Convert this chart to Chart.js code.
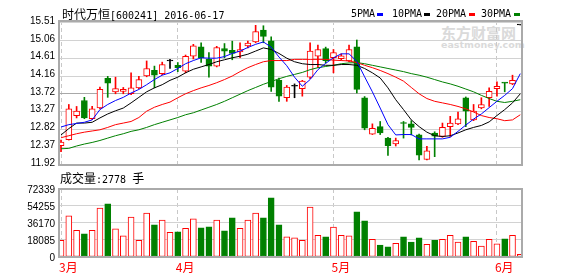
<!DOCTYPE html>
<html>
<head>
<meta charset="utf-8">
<script src="https://cdn.jsdelivr.net/npm/chart.js@4.4.0/dist/chart.umd.min.js"></script>
<style>
  body { margin: 0; background: #fff; }
  #wrap { position: relative; width: 578px; height: 276px; overflow: hidden; background: #fff; }
  canvas { position: absolute; left: 0; top: 0; }
  .t { position: absolute; white-space: nowrap; color: #000; line-height: 14px; }
  .cjk { font-family: "Noto Sans CJK SC"; font-size: 12px; }
  .mono { font-family: "DejaVu Sans Mono"; font-size: 10px; }
  .mk { position: absolute; width: 6px; height: 3px; top: 13px; }
  .wm { position: absolute; white-space: nowrap; color: #dadada; font-weight: bold; }
</style>
</head>
<body>
<div id="wrap">
  <div class="wm" style="left:441px;top:22px;font-family:'Noto Sans CJK SC';font-size:15px;">东方财富网</div>
  <div class="wm" style="left:441px;top:39px;font-family:'DejaVu Sans';font-size:9.5px;">eastmoney.com</div>
  <canvas id="price" width="578" height="276"></canvas>
  <canvas id="volume" width="578" height="276"></canvas>
  <div class="t" style="left:62px;top:7px;"><span class="cjk">时代万恒</span><span class="mono">[600241] 2016-06-17</span></div>
  <div class="t mono" style="left:351px;top:7px;">5PMA</div><div class="mk" style="left:377px;background:#0000ff;"></div>
  <div class="t mono" style="left:392px;top:7px;">10PMA</div><div class="mk" style="left:424px;background:#000000;"></div>
  <div class="t mono" style="left:436px;top:7px;">20PMA</div><div class="mk" style="left:469px;background:#ff0000;"></div>
  <div class="t mono" style="left:481px;top:7px;">30PMA</div><div class="mk" style="left:514px;background:#008000;"></div>
  <div class="t" style="left:60px;top:171px;"><span class="cjk">成交量</span><span class="mono">:2778 </span><span class="cjk">手</span></div>
</div>
<script>
//      Axis ticks
const monthTicks = [0, 15, 35, 56];
const monthLabels = ["3月", "4月", "5月", "6月"];
const priceTicks = [11.92, 12.37, 12.82, 13.27, 13.72, 14.16, 14.61, 15.06, 15.51];
const volumeTicks = [0, 18085, 36170, 54255, 72339];

//      Daily candles
const opens = [12.41, 12.56, 13.17, 13.55, 13.09, 13.36, 14.11, 13.77, 13.78, 13.72,
               13.87, 14.17, 14.31, 14.23, 14.55, 14.44, 14.29, 14.67, 14.91, 14.59,
               14.42, 14.86, 14.82, 14.78, 14.93, 15.03, 15.33, 15.06, 14.06, 13.62,
               13.91, 13.85, 14.14, 14.67, 14.86, 14.63, 14.61, 14.55, 14.91, 13.62,
               12.70, 12.89, 12.60, 12.45, 12.98, 12.96, 12.68, 12.06, 12.73, 12.64,
               12.89, 12.96, 13.62, 13.06, 13.36, 13.62, 13.85, 14.00, 13.97, 15.46];
const closes = [12.50, 13.34, 13.28, 13.11, 13.34, 13.83, 13.99, 13.85, 13.83, 13.87,
                14.08, 14.36, 14.19, 14.46, 14.55, 14.38, 14.67, 14.93, 14.63, 14.42,
                14.89, 14.80, 14.74, 14.84, 15.00, 15.29, 15.17, 13.89, 13.66, 13.89,
                13.91, 14.04, 14.80, 14.84, 14.56, 14.76, 14.68, 14.84, 13.83, 12.85,
                12.85, 12.73, 12.41, 12.54, 12.97, 12.87, 12.17, 12.28, 12.65, 12.87,
                12.98, 13.09, 13.28, 13.28, 13.45, 13.78, 13.91, 13.99, 14.06, 15.46];
const highs = [12.55, 13.45, 13.40, 13.63, 13.40, 13.89, 14.16, 14.14, 13.88, 14.25,
               14.16, 14.55, 14.42, 14.52, 14.59, 14.51, 14.70, 14.97, 15.01, 14.76,
               14.92, 14.99, 15.05, 15.01, 15.05, 15.45, 15.44, 15.16, 14.12, 13.93,
               13.97, 14.06, 15.01, 14.95, 14.90, 14.84, 14.73, 14.95, 15.08, 13.65,
               12.96, 13.02, 12.62, 12.60, 13.02, 13.04, 12.70, 12.39, 12.76, 12.98,
               13.15, 13.26, 13.64, 13.45, 13.62, 13.87, 14.02, 14.00, 14.19, 15.46];
const lows = [12.26, 12.55, 13.11, 13.09, 13.07, 13.34, 13.63, 13.72, 13.72, 13.70,
              13.85, 14.15, 13.87, 14.20, 14.36, 14.28, 14.25, 14.60, 14.51, 14.14,
              14.40, 14.63, 14.58, 14.63, 14.88, 15.01, 15.01, 13.78, 13.53, 13.53,
              13.62, 13.66, 14.10, 14.38, 14.50, 14.25, 14.57, 14.53, 13.74, 12.81,
              12.69, 12.69, 12.16, 12.40, 12.60, 12.68, 12.05, 12.05, 12.13, 12.62,
              12.64, 12.94, 12.89, 13.04, 13.34, 13.40, 13.66, 13.77, 13.95, 15.46];
const volumes = [17800, 43800, 28500, 24600, 28500, 52000, 56600, 29900, 22400, 42400,
                 17800, 46600, 34200, 39200, 26300, 26700, 30600, 40600, 31000, 32000,
                 39200, 27800, 41700, 30600, 39200, 46600, 41700, 63000, 34200, 21400,
                 20300, 17800, 53000, 23100, 21400, 31700, 23100, 22400, 48100, 38400,
                 18900, 12800, 10700, 14600, 21400, 16000, 20300, 13500, 17800, 18900,
                 23100, 16000, 21400, 16700, 11700, 18900, 13900, 19200, 23100, 2778];

//      Moving average lines
const ma5 = [12.88, 12.94, 12.97, 13.00, 13.06, 13.32, 13.45, 13.55, 13.63, 13.74,
             13.83, 13.95, 14.08, 14.19, 14.25, 14.36, 14.48, 14.56, 14.63, 14.62,
             14.62, 14.66, 14.74, 14.80, 14.89, 14.97, 15.03, 14.90, 14.65, 14.43,
             14.14, 13.91, 14.08, 14.33, 14.49, 14.63, 14.73, 14.73, 14.54, 14.15,
             13.77, 13.36, 12.94, 12.68, 12.69, 12.69, 12.58, 12.58, 12.58, 12.58,
             12.62, 12.77, 12.93, 13.08, 13.21, 13.37, 13.53, 13.68, 13.85, 14.23];
const ma10 = [12.68, 12.84, 12.98, 12.98, 13.00, 13.11, 13.21, 13.29, 13.36, 13.49,
              13.63, 13.77, 13.87, 13.95, 14.06, 14.14, 14.25, 14.34, 14.40, 14.46,
              14.53, 14.58, 14.63, 14.67, 14.72, 14.80, 14.88, 14.84, 14.74, 14.62,
              14.53, 14.48, 14.46, 14.46, 14.44, 14.44, 14.46, 14.46, 14.44, 14.36,
              14.25, 14.12, 13.87, 13.57, 13.32, 13.06, 12.89, 12.75, 12.66, 12.64,
              12.66, 12.73, 12.81, 12.87, 12.92, 13.01, 13.17, 13.32, 13.49, 13.72];
const ma20 = [12.61, 12.66, 12.71, 12.75, 12.78, 12.81, 12.87, 12.94, 12.98, 13.02,
              13.12, 13.28, 13.38, 13.45, 13.51, 13.62, 13.72, 13.80, 13.87, 13.93,
              14.00, 14.08, 14.17, 14.28, 14.38, 14.46, 14.53, 14.56, 14.56, 14.56,
              14.59, 14.59, 14.59, 14.59, 14.59, 14.57, 14.56, 14.55, 14.51, 14.44,
              14.38, 14.31, 14.23, 14.14, 14.04, 13.88, 13.72, 13.60, 13.53, 13.49,
              13.45, 13.40, 13.34, 13.26, 13.17, 13.12, 13.09, 13.04, 13.06, 13.19];
const ma30 = [12.33, 12.34, 12.40, 12.45, 12.49, 12.54, 12.60, 12.66, 12.71, 12.77,
              12.81, 12.87, 12.94, 13.00, 13.06, 13.12, 13.19, 13.24, 13.31, 13.38,
              13.45, 13.53, 13.62, 13.71, 13.80, 13.88, 13.96, 14.03, 14.10, 14.16,
              14.21, 14.26, 14.33, 14.38, 14.41, 14.44, 14.48, 14.50, 14.51, 14.48,
              14.44, 14.40, 14.36, 14.32, 14.28, 14.23, 14.19, 14.14, 14.08, 14.02,
              13.97, 13.91, 13.84, 13.77, 13.68, 13.60, 13.53, 13.50, 13.53, 13.57];

const RED = "#ff0000";
const GREEN = "#008000";
const idx = opens.map((_, i) => i);

//      up = red hollow, down = green solid, flat = black
function candleColor(i) {
    if (closes[i] > opens[i]) return RED;
    if (closes[i] < opens[i]) return GREEN;
    return "#000000";
}
function volumeColor(i) {
    return closes[i] < opens[i] ? GREEN : RED;
}

//      gray box round each plot
const frame = {
    id: "frame",
    afterDatasetsDraw(chart) {
        const { ctx, chartArea: a } = chart;
        ctx.save();
        ctx.strokeStyle = "#aaaaaa";
        ctx.lineWidth = 2;
        ctx.strokeRect(a.left, a.top, a.right - a.left, a.bottom - a.top);
        ctx.restore();
    }
};

const tickFont = { family: "Liberation Sans", size: 10 };

function xAxis(showLabels) {
    return {
        type: "linear", min: -0.26, max: 59.22, offset: false,
        afterBuildTicks: s => { s.ticks = monthTicks.map(v => ({ value: v })); },
        afterFit: s => { s.height = showLabels ? 19 : 0; },
        ticks: {
            display: showLabels, autoSkip: false, maxRotation: 0, align: "start",
            padding: 3, labelOffset: -2, color: RED,
            font: { family: "Noto Sans CJK SC", size: 12 },
            callback: v => monthLabels[monthTicks.indexOf(v)]
        },
        grid: { offset: false, drawTicks: false, color: "#c8c8c8", lineWidth: 1 },
        border: { display: false, dash: [4, 3] }
    };
}

//      Price chart: candles + MA lines
new Chart(document.getElementById("price"), {
    type: "bar",
    data: {
        datasets: [
            { type: "line", data: idx.map(i => ({ x: i, y: ma5[i] })), borderColor: "#0000ff", borderWidth: 1, pointRadius: 0, order: 0 },
            { type: "line", data: idx.map(i => ({ x: i, y: ma10[i] })), borderColor: "#000000", borderWidth: 1, pointRadius: 0, order: 0 },
            { type: "line", data: idx.map(i => ({ x: i, y: ma20[i] })), borderColor: RED, borderWidth: 1, pointRadius: 0, order: 0 },
            { type: "line", data: idx.map(i => ({ x: i, y: ma30[i] })), borderColor: GREEN, borderWidth: 1, pointRadius: 0, order: 0 },
            {
                // bodies
                data: idx.map(i => ({ x: i, y: [opens[i], closes[i]] })),
                backgroundColor: idx.map(i => closes[i] > opens[i] ? "#ffffff" : candleColor(i)),
                borderColor: idx.map(candleColor),
                borderWidth: 1, borderSkipped: false,
                barThickness: 6, minBarLength: 1, grouped: false, order: 1
            },
            {
                // wicks
                data: idx.map(i => ({ x: i, y: [lows[i], highs[i]] })),
                backgroundColor: idx.map(candleColor),
                borderWidth: 0, barThickness: 1, grouped: false, order: 2
            }
        ]
    },
    options: {
        responsive: false, animation: false, events: [],
        layout: { padding: { left: 0, top: 21, right: 56, bottom: 111 } },
        plugins: { legend: { display: false }, tooltip: { enabled: false } },
        scales: {
            x: xAxis(false),
            y: {
                min: 11.92, max: 15.56,
                afterBuildTicks: s => { s.ticks = priceTicks.map(v => ({ value: v })); },
                afterFit: s => { s.width = 59; },
                ticks: { padding: 4, labelOffset: -2, color: "#000", font: tickFont, callback: v => v.toFixed(2) },
                grid: { drawTicks: false, color: c => c.index === 4 ? "#a8a8a8" : "#d2d2d2" },
                border: { display: false }
            }
        }
    },
    plugins: [frame]
});

//      Volume chart
new Chart(document.getElementById("volume"), {
    type: "bar",
    data: {
        datasets: [{
            data: idx.map(i => ({ x: i, y: volumes[i] })),
            backgroundColor: idx.map(i => volumeColor(i) === RED ? "#ffffff" : GREEN),
            borderColor: idx.map(volumeColor),
            borderWidth: 1, borderSkipped: false, barThickness: 6, grouped: false
        }]
    },
    options: {
        responsive: false, animation: false, events: [],
        layout: { padding: { left: 0, top: 189, right: 56, bottom: 0 } },
        plugins: { legend: { display: false }, tooltip: { enabled: false } },
        scales: {
            x: xAxis(true),
            y: {
                min: 0, max: 72339,
                afterBuildTicks: s => { s.ticks = volumeTicks.map(v => ({ value: v })); },
                afterFit: s => { s.width = 59; },
                ticks: { padding: 4, labelOffset: 1, color: "#000", font: tickFont, callback: v => String(v) },
                grid: { drawTicks: false, color: "#d2d2d2" },
                border: { display: false }
            }
        }
    },
    plugins: [frame]
});
</script>
</body>
</html>
